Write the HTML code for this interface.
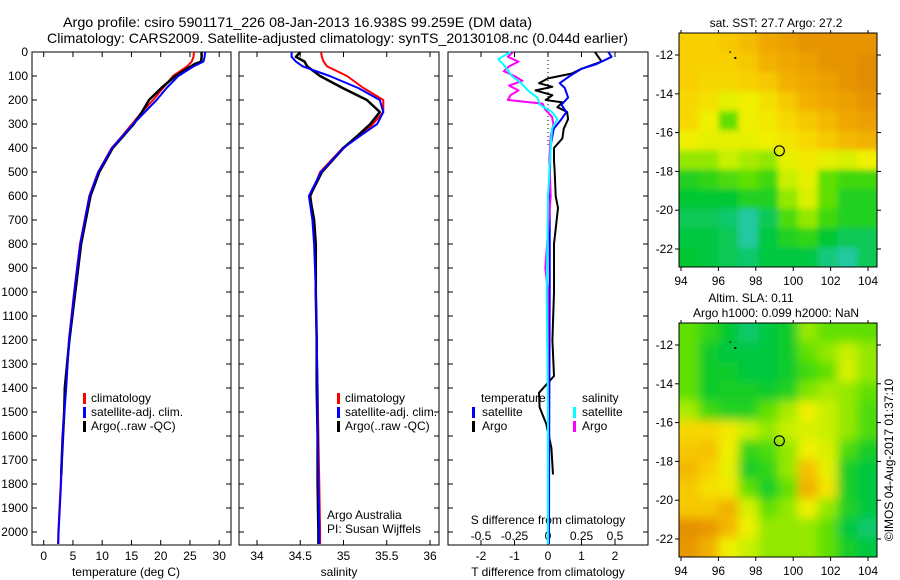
<!DOCTYPE html>
<html><head><meta charset="utf-8">
<style>
html,body{margin:0;padding:0;background:#fff;}
svg{display:block;font-family:"Liberation Sans",sans-serif;}
text{fill:#000;}
</style></head>
<body>
<svg id="chart" width="900" height="580" viewBox="0 0 900 580" xmlns="http://www.w3.org/2000/svg">
<defs>
<clipPath id="clipMap1"><rect x="679" y="33" width="198" height="234"/></clipPath>
<clipPath id="clipMap2"><rect x="679" y="323" width="198" height="234"/></clipPath>
<filter id="blurMap" x="-5%" y="-5%" width="110%" height="110%"><feGaussianBlur stdDeviation="5"/></filter>
<filter id="blurMap1" x="-5%" y="-5%" width="110%" height="110%"><feGaussianBlur stdDeviation="3"/></filter>
</defs>
<text x="63" y="27" font-size="14" textLength="469" lengthAdjust="spacingAndGlyphs">Argo profile: csiro 5901171_226 08-Jan-2013 16.938S 99.259E (DM data)</text>
<text x="47" y="43" font-size="14" textLength="581" lengthAdjust="spacingAndGlyphs">Climatology: CARS2009. Satellite-adjusted climatology: synTS_20130108.nc (0.044d earlier)</text>
<g id="plots"></g>
</svg>
<script>
// ---------- data ----------
const depthTicks = [0,100,200,300,400,500,600,700,800,900,1000,1100,1200,1300,1400,1500,1600,1700,1800,1900,2000];
const tempTicks = [0,5,10,15,20,25,30];
const salTicks = [34,34.5,35,35.5,36];
const tdiffTicks = [-2,-1,0,1,2];
const sdiffTicks = [-0.5,-0.25,0,0.25,0.5];
const sdiffTickLabels = ["-0.5","-0.25","0","0.25","0.5"];

const climDepth = [0,20,40,60,100,150,200,250,300,350,400,500,600,700,800,900,1000,1200,1400,1600,1800,2000,2050];
const climTemp  = [25.7,25.6,25.3,24.5,22.1,20.4,18.7,16.8,15.1,13.4,11.6,9.3,7.8,7.0,6.2,5.7,5.2,4.3,3.8,3.2,2.9,2.5,2.45];
const satTemp   = [27.6,27.5,27.3,25.6,23.0,21.0,19.3,17.3,15.3,13.5,11.7,9.35,7.85,7.05,6.25,5.75,5.25,4.35,3.85,3.25,2.95,2.55,2.5];
const argoDepth = [0,20,40,50,100,150,200,250,300,350,400,500,600,700,800,900,1000,1200,1400,1500,1600,1700,1760];
const argoTemp  = [27.0,27.0,26.9,25.8,22.5,20.1,18.0,16.8,15.4,13.6,11.8,9.5,8.0,7.2,6.4,5.9,5.4,4.4,3.6,3.5,3.3,3.1,3.0];

const climSal = [34.74,34.75,34.77,34.81,35.04,35.23,35.46,35.46,35.34,35.19,34.99,34.73,34.62,34.65,34.67,34.68,34.68,34.69,34.70,34.71,34.72,34.73,34.73];
const satSal  = [34.40,34.40,34.45,34.53,34.84,35.17,35.42,35.46,35.39,35.19,35.00,34.74,34.60,34.64,34.66,34.67,34.68,34.69,34.70,34.70,34.71,34.72,34.72];
const argoSal = [34.50,34.45,34.55,34.58,34.73,34.99,35.27,35.42,35.31,35.16,35.00,34.75,34.61,34.66,34.68,34.68,34.68,34.69,34.69,34.70,34.70,34.71,34.71];

const satTdiffDepth = [0,20,50,70,100,130,150,190,220,250,280,320,400,600,1000,1500,2000,2050];
const satTdiff = [1.8,1.9,1.45,1.0,0.65,0.35,0.5,0.6,0.4,0.55,0.4,0.17,0.07,0.05,0.05,0.04,0.03,0.03];
const argoTdiffDepth = [0,40,70,90,110,130,145,160,180,200,210,230,250,280,320,360,400,450,500,600,650,800,1000,1200,1350,1420,1480,1550,1650,1760];
const argoTdiff = [1.4,1.6,1.0,0.7,0.0,-0.27,0.13,-0.37,0.13,-0.07,0.43,0.28,0.57,0.6,0.47,0.43,0.18,0.18,0.2,0.23,0.3,0.18,0.18,0.13,0.18,-0.27,-0.25,-0.05,0.1,0.15];
const satSdiffDepth = [0,30,60,100,130,160,190,220,250,280,320,400,600,1000,1500,2000,2050];
const satSdiff = [-0.28,-0.37,-0.32,-0.27,-0.2,-0.15,-0.08,-0.06,0.03,0.07,0.03,0.02,0.0,-0.01,0.0,0.0,0.0];
const argoSdiffDepth = [0,20,40,60,80,100,120,140,160,180,200,215,240,270,300,350,450,600,900,1000,1200,1760];
const argoSdiff = [-0.26,-0.3,-0.22,-0.29,-0.33,-0.25,-0.19,-0.29,-0.22,-0.28,-0.3,-0.04,-0.02,0.03,0.04,0.02,0.01,0.02,-0.02,0.0,0.0,0.0];

const lonTicks = [94,96,98,100,102,104];
const latTicks = [-12,-14,-16,-18,-20,-22];
const argoLon = 99.259, argoLat = -16.938;
const sstGrid = [
 [0.70,0.70,0.72,0.75,0.80,0.82,0.85,0.85,0.85,0.85],
 [0.70,0.70,0.70,0.72,0.78,0.80,0.82,0.85,0.85,0.87],
 [0.70,0.68,0.68,0.70,0.72,0.78,0.80,0.82,0.85,0.87],
 [0.68,0.66,0.60,0.62,0.66,0.72,0.78,0.80,0.82,0.85],
 [0.68,0.62,0.45,0.62,0.64,0.68,0.72,0.76,0.80,0.82],
 [0.62,0.60,0.60,0.60,0.62,0.65,0.68,0.72,0.76,0.78],
 [0.50,0.50,0.55,0.52,0.50,0.60,0.64,0.60,0.58,0.62],
 [0.35,0.38,0.42,0.45,0.40,0.55,0.60,0.45,0.40,0.40],
 [0.30,0.30,0.30,0.35,0.35,0.50,0.58,0.45,0.35,0.35],
 [0.25,0.25,0.22,0.15,0.25,0.42,0.50,0.40,0.35,0.35],
 [0.28,0.28,0.25,0.15,0.28,0.35,0.38,0.30,0.25,0.25],
 [0.30,0.28,0.25,0.22,0.28,0.28,0.28,0.20,0.15,0.25]];
const slaGrid = [
 [0.45,0.38,0.30,0.22,0.28,0.32,0.50,0.45,0.45,0.45],
 [0.45,0.32,0.28,0.28,0.28,0.32,0.45,0.50,0.55,0.50],
 [0.45,0.32,0.32,0.28,0.28,0.32,0.40,0.45,0.58,0.50],
 [0.45,0.32,0.33,0.33,0.32,0.35,0.48,0.52,0.50,0.45],
 [0.52,0.40,0.35,0.35,0.45,0.52,0.62,0.55,0.50,0.42],
 [0.68,0.68,0.64,0.55,0.50,0.55,0.58,0.55,0.50,0.42],
 [0.72,0.74,0.62,0.38,0.42,0.50,0.62,0.58,0.42,0.33],
 [0.76,0.70,0.60,0.33,0.38,0.50,0.74,0.60,0.33,0.28],
 [0.72,0.66,0.64,0.45,0.33,0.45,0.78,0.65,0.33,0.28],
 [0.72,0.72,0.78,0.58,0.45,0.50,0.62,0.50,0.35,0.28],
 [0.86,0.84,0.76,0.62,0.50,0.50,0.50,0.45,0.28,0.22],
 [0.84,0.78,0.62,0.55,0.50,0.50,0.50,0.45,0.33,0.28]];

// ---------- helpers ----------
const NS = "http://www.w3.org/2000/svg";
const root = document.getElementById('plots');
function mk(tag, attrs, parent){const e=document.createElementNS(NS,tag);for(const k in attrs)e.setAttribute(k,attrs[k]);(parent||root).appendChild(e);return e;}
const yD = d => 52 + 0.24*d;
const PTOP = 52, PBOT = 545;
const xT = t => 43.7 + 5.85*t;
const xS = s => 257 + 86.5*(s-34);
const xTd = v => 548 + 33.5*v;
const xSd = v => 548 + 134*v;

function frame(x0,x1,name){
  const r = mk('rect',{x:x0,y:PTOP,width:x1-x0,height:PBOT-PTOP,fill:'none',stroke:'#000','stroke-width':1});
  
  
  depthTicks.forEach(d=>{
    mk('line',{x1:x0,x2:x0+5,y1:yD(d),y2:yD(d),stroke:'#000'});
    mk('line',{x1:x1,x2:x1-5,y1:yD(d),y2:yD(d),stroke:'#000'});
  });
}
function xTicks(vals,fx,labels,ly,name){
  vals.forEach((v,i)=>{
    const x=fx(v);
    mk('line',{x1:x,x2:x,y1:PBOT,y2:PBOT-5,stroke:'#000'});
    mk('line',{x1:x,x2:x,y1:PTOP,y2:PTOP+5,stroke:'#000'});
    const t=mk('text',{x:x,y:ly,'font-size':12,'text-anchor':'middle'});
    t.textContent=labels?labels[i]:String(v);
    
    
  });
}
function line(xs,ds,fx,color,w,name){
  const pts = ds.map((d,i)=>fx(xs[i]).toFixed(1)+','+yD(d).toFixed(1)).join(' ');
  const p = mk('polyline',{points:pts,fill:'none',stroke:color,'stroke-width':w,'stroke-linejoin':'round'});
  
  
}
function label(x,y,txt,name,size,anchor){
  const t=mk('text',{x:x,y:y,'font-size':size||12,'text-anchor':anchor||'start'});
  t.textContent=txt;
  
  
  return t;
}
function legendBar(x,y,color,name){
  const r=mk('rect',{x:x,y:y-9,width:3,height:11,fill:color});
  
  
}

// ---------- panel 1: temperature ----------
frame(32,231,'temperature-panel-frame');
depthTicks.forEach(d=>{
  const t=mk('text',{x:28,y:yD(d)+4,'font-size':12,'text-anchor':'end'});
  t.textContent=String(d);
  
  
});
xTicks(tempTicks,xT,null,560,'temperature-tick-label');
label(126,576,'temperature (deg C)','temperature-axis-title',12,'middle');
line(climTemp,climDepth,xT,'#f00',2,'temperature-climatology-line');
line(argoTemp,argoDepth,xT,'#000',2.5,'temperature-argo-line');
line(satTemp,climDepth,xT,'#00f',2,'temperature-satellite-line');
legendBar(83,402,'#f00','legend-climatology-swatch');
label(91,402,'climatology','legend-climatology');
legendBar(83,416,'#00f','legend-satellite-swatch');
label(91,416,'satellite-adj. clim.','legend-satellite-adj');
legendBar(83,430,'#000','legend-argo-swatch');
label(91,430,'Argo(..raw -QC)','legend-argo');

// ---------- panel 2: salinity ----------
frame(239,439,'salinity-panel-frame');
xTicks(salTicks,xS,null,560,'salinity-tick-label');
label(339,576,'salinity','salinity-axis-title',12,'middle');
line(climSal,climDepth,xS,'#f00',2,'salinity-climatology-line');
line(argoSal,climDepth.slice(0,argoSal.length),xS,'#000',2.5,'salinity-argo-line');
line(satSal,climDepth,xS,'#00f',2,'salinity-satellite-line');
legendBar(337,402,'#f00','legend2-climatology-swatch');
label(345,402,'climatology','legend2-climatology');
legendBar(337,416,'#00f','legend2-satellite-swatch');
label(345,416,'satellite-adj. clim.','legend2-satellite-adj');
legendBar(337,430,'#000','legend2-argo-swatch');
label(345,430,'Argo(..raw -QC)','legend2-argo');
label(327,519,'Argo Australia','argo-australia-note');
label(327,533,'PI: Susan Wijffels','pi-note');

// ---------- panel 3: differences ----------
frame(448,648,'difference-panel-frame');
mk('line',{x1:xTd(0),x2:xTd(0),y1:PTOP,y2:yD(400),stroke:'#000','stroke-dasharray':'1,3'});
tdiffTicks.forEach(v=>{
  const x=xTd(v);
  mk('line',{x1:x,x2:x,y1:PBOT,y2:PBOT-5,stroke:'#000'});
  mk('line',{x1:x,x2:x,y1:PTOP,y2:PTOP+5,stroke:'#000'});
  const t=mk('text',{x:x,y:560,'font-size':12,'text-anchor':'middle'});
  t.textContent=String(v);
  
  
});
sdiffTicks.forEach((v,i)=>{
  const t=mk('text',{x:xSd(v),y:540,'font-size':12,'text-anchor':'middle'});
  t.textContent=sdiffTickLabels[i];
  
  
});
label(548,524,'S difference from climatology','sdiff-axis-title',12,'middle');
label(548,576,'T difference from climatology','tdiff-axis-title',12,'middle');
line(argoTdiff,argoTdiffDepth,xTd,'#000',2,'tdiff-argo-line');
line(satTdiff,satTdiffDepth,xTd,'#00f',2,'tdiff-satellite-line');
line(argoSdiff,argoSdiffDepth,xSd,'#f0f',2,'sdiff-argo-line');
line(satSdiff,satSdiffDepth,xSd,'#0ff',2,'sdiff-satellite-line');
label(481,402,'temperature','legend3-temperature-heading');
legendBar(472,416,'#00f','legend3-tsat-swatch');
label(482,416,'satellite','legend3-temperature-satellite');
legendBar(472,430,'#000','legend3-targo-swatch');
label(482,430,'Argo','legend3-temperature-argo');
label(582,402,'salinity','legend3-salinity-heading');
legendBar(573,416,'#0ff','legend3-ssat-swatch');
label(582,416,'satellite','legend3-salinity-satellite');
legendBar(573,430,'#f0f','legend3-sargo-swatch');
label(582,430,'Argo','legend3-salinity-argo');

// ---------- maps ----------
const rampStops = [[0.15,[32,200,160]],[0.30,[0,200,48]],[0.45,[96,224,0]],[0.55,[200,240,0]],[0.62,[240,240,0]],[0.70,[248,208,0]],[0.80,[240,168,0]],[0.88,[224,136,0]]];
function ramp(v){
  if(v<=rampStops[0][0]) return 'rgb('+rampStops[0][1]+')';
  for(let i=1;i<rampStops.length;i++){
    if(v<=rampStops[i][0]){
      const [a,ca]=rampStops[i-1],[b,cb]=rampStops[i];const f=(v-a)/(b-a);
      return 'rgb('+ca.map((c,k)=>Math.round(c+(cb[k]-c)*f)).join(',')+')';
    }
  }
  return 'rgb('+rampStops[rampStops.length-1][1]+')';
}
function map(top,grid,clipId,blurId,name){
  const xL = lon => 681 + 18.7*(lon-94);
  const yL = lat => top + 22 + 19.4*(-12-lat);
  const g = mk('g',{'clip-path':'url(#'+clipId+')'});
  
  
  const inner = mk('g',{filter:'url(#'+blurId+')'},g);
  const cw=198/10, ch=234/12;
  grid.forEach((row,r)=>row.forEach((v,c)=>{
    mk('rect',{x:(679+c*cw-(c==0?12:0)).toFixed(1),y:(top+r*ch-(r==0?12:0)).toFixed(1),width:(cw+(c==0||c==9?12:0)+0.6).toFixed(1),height:(ch+(r==0||r==11?12:0)+0.6).toFixed(1),fill:ramp(v)},inner);
  }));
  mk('rect',{x:679,y:top,width:198,height:234,fill:'none',stroke:'#000'});
  lonTicks.forEach(l=>{
    const x=xL(l);
    mk('line',{x1:x,x2:x,y1:top,y2:top-3,stroke:'#000'});
    mk('line',{x1:x,x2:x,y1:top+234,y2:top+238,stroke:'#000'});
    const t=mk('text',{x:x,y:top+252,'font-size':12,'text-anchor':'middle'});
    t.textContent=String(l);
    
    
  });
  latTicks.forEach(l=>{
    const y=yL(l);
    mk('line',{x1:679,x2:675,y1:y,y2:y,stroke:'#000'});
    mk('line',{x1:877,x2:881,y1:y,y2:y,stroke:'#000'});
    const t=mk('text',{x:673,y:y+4,'font-size':12,'text-anchor':'end'});
    t.textContent=String(l);
    
    
  });
  const c=mk('circle',{cx:xL(argoLon),cy:yL(argoLat),r:5,fill:'none',stroke:'#000','stroke-width':1.2});
  
  
  mk('rect',{x:xL(96.6),y:yL(-11.8),width:1,height:2,fill:'#000'});
  mk('rect',{x:xL(96.85),y:yL(-12.1),width:2,height:2,fill:'#000'});
}
map(33,sstGrid,'clipMap1','blurMap1','sst-map');
label(776,27,'sat. SST: 27.7 Argo: 27.2','sst-map-title',12,'middle');
map(323,slaGrid,'clipMap2','blurMap','sla-map');
label(751,302,'Altim. SLA: 0.11','sla-map-title',12,'middle');
label(776,317,'Argo h1000: 0.099 h2000: NaN','argo-height-title',12,'middle');
const imos = label(0,0,'©IMOS 04-Aug-2017 01:37:10','imos-timestamp',12,'middle');
imos.setAttribute('transform','translate(893,460) rotate(-90)');
</script>
</body></html>
